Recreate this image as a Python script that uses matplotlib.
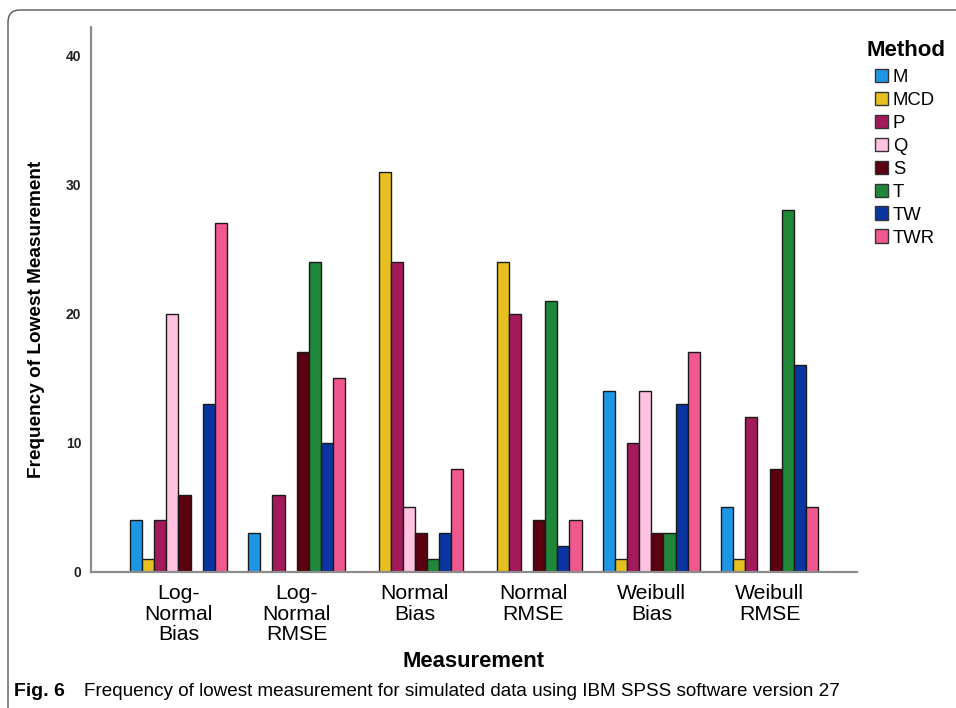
import numpy as np
import matplotlib.pyplot as plt
from matplotlib.patches import FancyBboxPatch, Patch
from matplotlib.transforms import IdentityTransform

plt.rcParams['font.family'] = ['Liberation Sans', 'DejaVu Sans']

# Frequency of lowest measurement per method, for each measurement type
measurements = ['Log-\nNormal\nBias', 'Log-\nNormal\nRMSE', 'Normal\nBias',
                'Normal\nRMSE', 'Weibull\nBias', 'Weibull\nRMSE']
methods = ['M', 'MCD', 'P', 'Q', 'S', 'T', 'TW', 'TWR']

m_vals = [4, 3, 0, 0, 14, 5]
mcd_vals = [1, 0, 31, 24, 1, 1]
p_vals = [4, 6, 24, 20, 10, 12]
q_vals = [20, 0, 5, 0, 14, 0]
s_vals = [6, 17, 3, 4, 3, 8]
t_vals = [0, 24, 1, 21, 3, 28]
tw_vals = [13, 10, 3, 2, 13, 16]
twr_vals = [27, 15, 8, 4, 17, 5]

series = [m_vals, mcd_vals, p_vals, q_vals, s_vals, t_vals, tw_vals, twr_vals]
colors = ['#1e96e6', '#e6c020', '#a31a5a', '#ffc2e0',
          '#5a0010', '#1f873a', '#0a35a0', '#f0588f']

fig = plt.figure(figsize=(9.56, 7.08), dpi=100)
ax = fig.add_axes([0.0952, 0.1921, 0.8013, 0.7698])

x = np.arange(len(measurements))
w = 0.1025
for i, (vals, c) in enumerate(zip(series, colors)):
    ax.bar(x + (i - 3.5) * w, vals, width=w, color=c,
           edgecolor='#1a1a1a', linewidth=1.0, label=methods[i])

ax.set_xlim(-0.74, 5.74)
ax.set_ylim(0, 42.2)
ax.set_yticks([0, 10, 20, 30, 40])
ax.set_xticks(x)
ax.set_xticklabels(measurements, fontsize=15.3, linespacing=1.1)
ax.tick_params(axis='y', length=0, pad=7, labelsize=10, labelcolor='#222222')
ax.tick_params(axis='x', length=0, pad=9)
for lab in ax.get_yticklabels():
    lab.set_fontweight('bold')

for side in ['top', 'right']:
    ax.spines[side].set_visible(False)
for side in ['left', 'bottom']:
    ax.spines[side].set_color('#8c8c8c')
    ax.spines[side].set_linewidth(1.6)

ax.set_ylabel('Frequency of Lowest Measurement', fontsize=13.7,
              fontweight='bold')
ax.yaxis.set_label_coords(-0.060, 0.464)
ax.set_xlabel('Measurement', fontsize=15.8, fontweight='bold', labelpad=5)

# legend, with its heading placed on its own
fig.text(866 / 956, 1 - 50 / 708, 'Method', fontsize=16, fontweight='bold',
         va='center', ha='left')
handles = [Patch(facecolor=c, edgecolor='#333333', linewidth=1.0) for c in colors]
leg = ax.legend(handles, methods, frameon=False,
                loc='upper left', bbox_to_anchor=(0.902, 0.921),
                bbox_transform=fig.transFigure, fontsize=13.3,
                handlelength=0.7, handleheight=0.75, handletextpad=0.25,
                labelspacing=0.31, borderpad=0.2)

# panel frame
frame = FancyBboxPatch((8, -20), 1000, 718,
                       boxstyle='round,pad=0,rounding_size=12',
                       transform=IdentityTransform(), fill=False,
                       edgecolor='#555555', linewidth=1.0)
fig.patches.append(frame)

fig.text(14 / 956, 1 - 691 / 708, 'Fig. 6', fontsize=14, fontweight='bold',
         va='center')
fig.text(84 / 956, 1 - 691 / 708,
         'Frequency of lowest measurement for simulated data using IBM SPSS software version 27',
         fontsize=13.6, va='center')

fig.savefig('out.png', dpi=100)
